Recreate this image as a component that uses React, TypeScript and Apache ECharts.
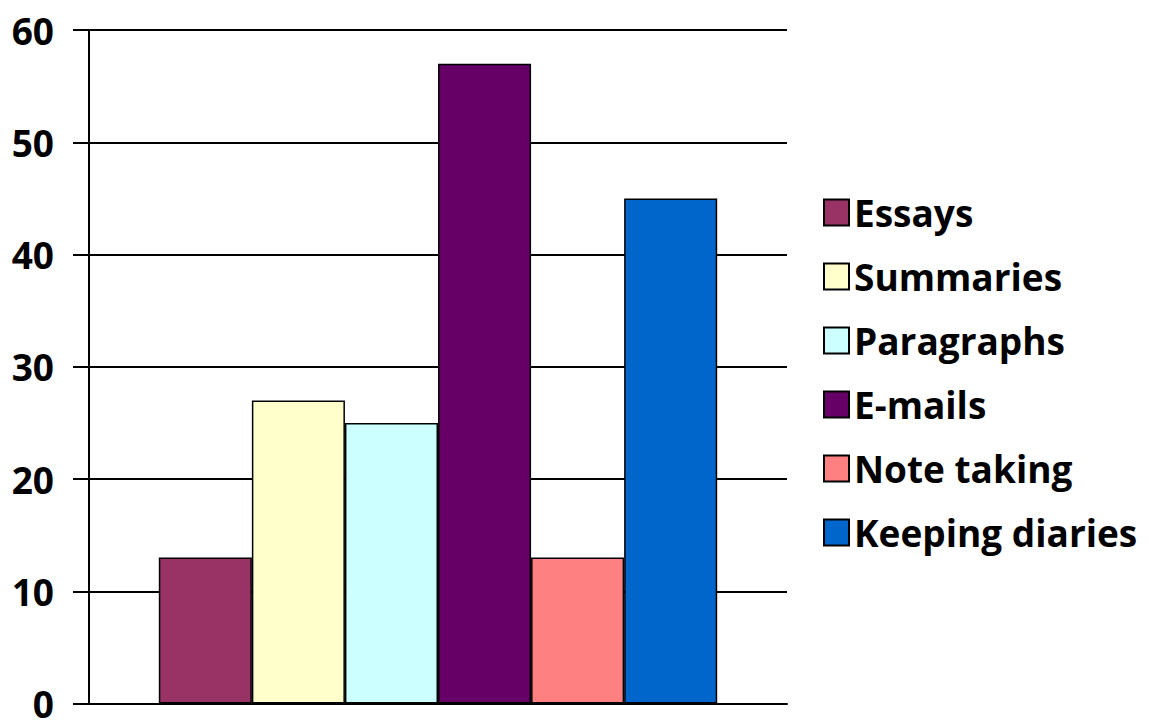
import React, { useEffect, useRef } from "react";
import * as echarts from "echarts";

const seriesNames = ["Essays", "Summaries", "Paragraphs", "E-mails", "Note taking", "Keeping diaries"];
const seriesValues = [13, 27, 25, 57, 13, 45];
const seriesColors = ["#993366", "#FFFFCC", "#CCFFFF", "#660066", "#FF8080", "#0066CC"];
const categories = [""];

const FONT = "'Open Sans', 'DejaVu Sans', sans-serif";

export default function App() {
  const ref = useRef<HTMLDivElement>(null);
  useEffect(() => {
    const chart = echarts.init(ref.current!, null, { renderer: "svg", width: 1150, height: 722 });
    chart.setOption({
      animation: false,
      backgroundColor: "#ffffff",
      grid: { left: 89, right: 363, top: 30, bottom: 13, containLabel: false },
      legend: {
        orient: "vertical",
        left: 818,
        top: 189,
        itemWidth: 25,
        itemHeight: 26,
        itemGap: 27,
        itemTextGap: 16,
        icon: "rect",
        textStyle: { fontFamily: FONT, fontSize: 37, fontWeight: "bold", color: "#000" },
        data: seriesNames,
      },
      xAxis: {
        type: "category",
        data: categories,
        axisLine: { show: true, lineStyle: { color: "#000", width: 2 } },
        axisTick: { show: false },
        axisLabel: { show: false },
      },
      yAxis: {
        type: "value",
        min: 0,
        max: 60,
        interval: 10,
        axisLine: { show: true, lineStyle: { color: "#000", width: 2 } },
        axisTick: { show: true, length: 16, lineStyle: { color: "#000", width: 2 } },
        axisLabel: { margin: 35, fontFamily: FONT, fontSize: 37, fontWeight: "bold", color: "#000" },
        splitLine: { show: true, lineStyle: { color: "#000", width: 2 } },
      },
      series: seriesNames.map((name, i) => ({
        name,
        type: "bar",
        data: [seriesValues[i]],
        barGap: "0%",
        barCategoryGap: "20%",
        itemStyle: { color: seriesColors[i], borderColor: "#000", borderWidth: 1.5 },
      })),
    });
    return () => chart.dispose();
  }, []);
  return <div ref={ref} style={{ position: "absolute", left: 0, top: 0, width: 1150, height: 722 }} />;
}
